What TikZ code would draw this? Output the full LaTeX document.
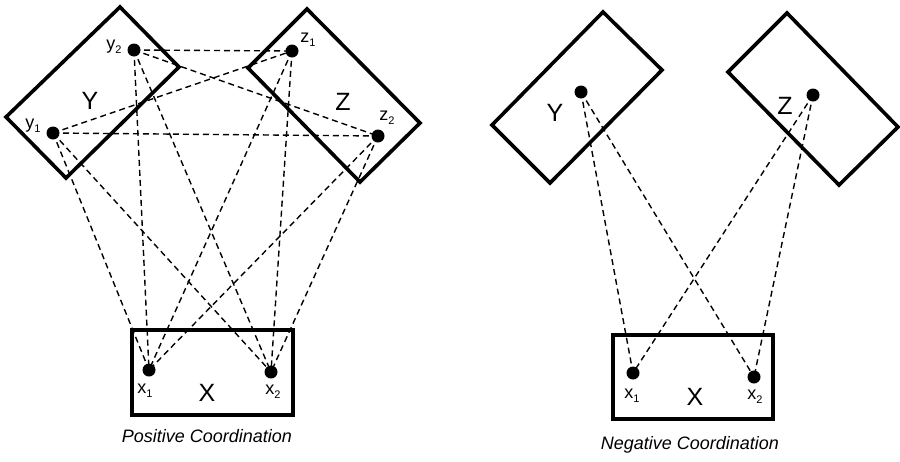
\documentclass[tikz,border=0pt]{standalone}
\usepackage{fontspec}
\setmainfont{Liberation Sans}
\newcommand{\lowsub}[1]{\raisebox{-0.45ex}{\fontsize{11}{11}\selectfont #1}}
\begin{document}
\begin{tikzpicture}[x=1pt,y=-1pt,
  frame/.style={line width=3.6pt,line join=miter},
  link/.style={line width=1.4pt,dash pattern=on 6pt off 4pt},
  dot/.style={circle,fill=black,inner sep=0pt,minimum size=13pt},
  big/.style={font=\fontsize{25}{25}\selectfont,inner sep=0pt},
  small/.style={font=\fontsize{18}{18}\selectfont,inner sep=0pt},
  captext/.style={font=\fontsize{18}{18}\selectfont\itshape,inner sep=0pt}]
\useasboundingbox (0,0) rectangle (900,461);

% ---------- positive coordination ----------
\coordinate (Ya) at (120,7);  \coordinate (Yb) at (179,67);
\coordinate (Yc) at (66,178); \coordinate (Yd) at (6,117);
\coordinate (Za) at (307,9);  \coordinate (Zb) at (420,123);
\coordinate (Zc) at (360,182);\coordinate (Zd) at (248,68);
\draw[frame] (Ya) -- (Yb) -- (Yc) -- (Yd) -- cycle;
\draw[frame] (Za) -- (Zb) -- (Zc) -- (Zd) -- cycle;
\draw[frame] (132,330) rectangle (293,415);

\node[dot] (y1) at (53,133) {};
\node[dot] (y2) at (134,50) {};
\node[dot] (z1) at (292,51) {};
\node[dot] (z2) at (378,136) {};
\node[dot] (x1) at (149,370) {};
\node[dot] (x2) at (271,372) {};

\foreach \a/\b in {y2/z1,y2/z2,y1/z1,y1/z2,
                   y1/x1,y1/x2,y2/x1,y2/x2,z1/x1,z1/x2,z2/x1,z2/x2}
  \draw[link] (\a.center) -- (\b.center);

\node[big] (Ylab) at (90,101) {Y};
\node[big] (Zlab) at (343,102) {Z};
\node[big] (Xlab) at (207,393) {X};
\node[small] (y1lab) at (33,126) {y\lowsub{1}};
\node[small] (y2lab) at (114,47) {y\lowsub{2}};
\node[small] (z1lab) at (308,40) {z\lowsub{1}};
\node[small] (z2lab) at (387,118) {z\lowsub{2}};
\node[small] (x1lab) at (145,391) {x\lowsub{1}};
\node[small] (x2lab) at (273,392) {x\lowsub{2}};
\node[captext] (poscap) at (207,436) {Positive Coordination};

% ---------- negative coordination ----------
\coordinate (Ra) at (603,12);  \coordinate (Rb) at (662,70);
\coordinate (Rc) at (550,183); \coordinate (Rd) at (492,125);
\coordinate (Sa) at (787,13);  \coordinate (Sb) at (898,127);
\coordinate (Sc) at (839,185); \coordinate (Sd) at (728,72);
\draw[frame] (Ra) -- (Rb) -- (Rc) -- (Rd) -- cycle;
\draw[frame] (Sa) -- (Sb) -- (Sc) -- (Sd) -- cycle;
\draw[frame] (613,335) rectangle (773,419);

\node[dot] (ny) at (581,92) {};
\node[dot] (nz) at (813,95) {};
\node[dot] (nx1) at (633,373) {};
\node[dot] (nx2) at (754,377) {};

\foreach \a/\b in {ny/nx1,ny/nx2,nz/nx1,nz/nx2}
  \draw[link] (\a.center) -- (\b.center);

\node[big] (nYlab) at (555,113) {Y};
\node[big] (nZlab) at (785,106) {Z};
\node[big] (nXlab) at (695,397) {X};
\node[small] (nx1lab) at (632,396) {x\lowsub{1}};
\node[small] (nx2lab) at (755,397) {x\lowsub{2}};
\node[captext] (negcap) at (690,445) {Negative Coordination};
\end{tikzpicture}
\end{document}
